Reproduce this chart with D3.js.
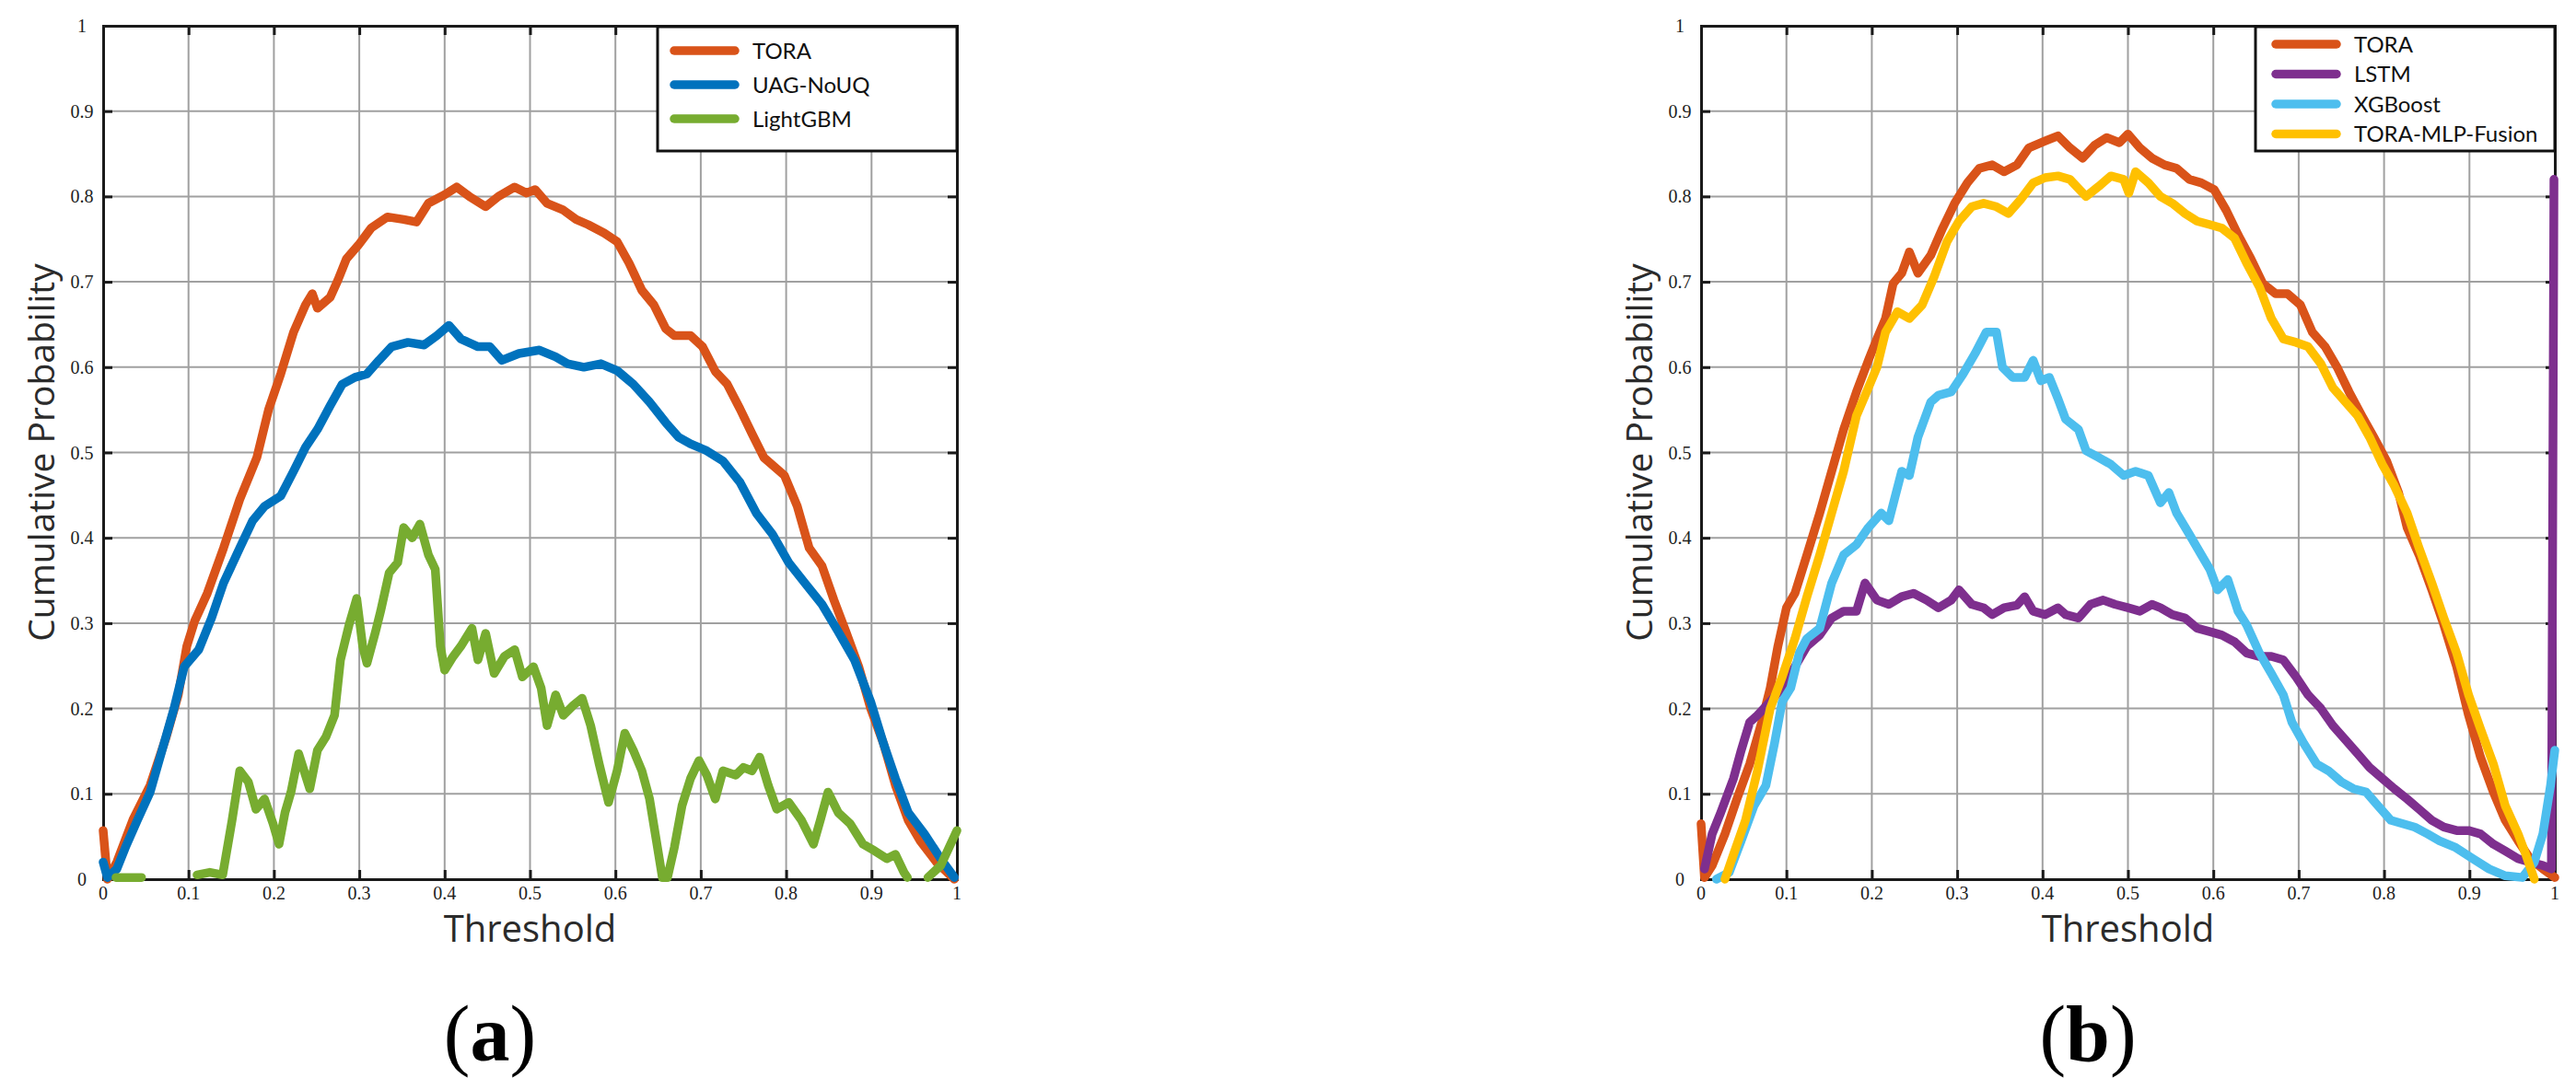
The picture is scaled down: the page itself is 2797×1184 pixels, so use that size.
<!DOCTYPE html>
<html>
<head>
<meta charset="utf-8">
<script src="https://cdn.jsdelivr.net/npm/d3@7"></script>
<style>
  body { margin: 0; background: #fff; }
  svg { display: block; }
</style>
</head>
<body>
<div id="chart"></div>
<script>
// ---- data ----
const ticks = [0, 0.1, 0.2, 0.3, 0.4, 0.5, 0.6, 0.7, 0.8, 0.9, 1];
const tickLabels = ["0", "0.1", "0.2", "0.3", "0.4", "0.5", "0.6", "0.7", "0.8", "0.9", "1"];

// panel (a)
const toraA = [[0,0.057],[0.005,0.0],[0.016,0.02],[0.035,0.07],[0.055,0.11],[0.074,0.167],[0.088,0.216],
  [0.098,0.273],[0.107,0.302],[0.122,0.335],[0.141,0.388],[0.16,0.445],[0.18,0.494],[0.194,0.551],
  [0.208,0.592],[0.223,0.641],[0.237,0.673],[0.245,0.686],[0.251,0.669],[0.266,0.682],[0.275,0.702],
  [0.285,0.727],[0.299,0.743],[0.314,0.763],[0.333,0.776],[0.352,0.773],[0.367,0.77],[0.381,0.792],
  [0.4,0.802],[0.414,0.811],[0.429,0.8],[0.448,0.788],[0.463,0.8],[0.482,0.811],[0.496,0.804],
  [0.506,0.808],[0.52,0.792],[0.539,0.784],[0.554,0.773],[0.568,0.767],[0.587,0.757],[0.602,0.747],
  [0.616,0.722],[0.631,0.69],[0.645,0.673],[0.659,0.645],[0.669,0.637],[0.688,0.637],[0.702,0.624],
  [0.717,0.595],[0.731,0.58],[0.746,0.551],[0.76,0.522],[0.774,0.494],[0.798,0.473],[0.813,0.437],
  [0.827,0.388],[0.842,0.367],[0.856,0.327],[0.87,0.29],[0.885,0.249],[0.899,0.2],[0.914,0.159],
  [0.928,0.11],[0.943,0.069],[0.957,0.045],[0.976,0.02],[0.997,0.0]];

const uagA = [[0,0.02],[0.005,0.002],[0.016,0.012],[0.026,0.037],[0.04,0.069],[0.055,0.102],[0.069,0.151],
  [0.083,0.2],[0.095,0.249],[0.112,0.269],[0.127,0.306],[0.141,0.347],[0.16,0.388],[0.175,0.42],
  [0.189,0.437],[0.208,0.449],[0.223,0.478],[0.237,0.506],[0.251,0.527],[0.266,0.555],[0.28,0.58],
  [0.295,0.588],[0.309,0.592],[0.323,0.608],[0.338,0.624],[0.357,0.629],[0.376,0.626],[0.391,0.637],
  [0.405,0.649],[0.419,0.633],[0.439,0.624],[0.453,0.624],[0.467,0.608],[0.487,0.616],[0.511,0.62],
  [0.53,0.612],[0.544,0.604],[0.563,0.6],[0.583,0.604],[0.602,0.596],[0.621,0.58],[0.64,0.559],
  [0.659,0.535],[0.674,0.518],[0.688,0.51],[0.707,0.502],[0.726,0.49],[0.746,0.465],[0.765,0.429],
  [0.784,0.404],[0.803,0.371],[0.822,0.347],[0.842,0.322],[0.861,0.29],[0.88,0.257],[0.899,0.208],
  [0.914,0.159],[0.928,0.118],[0.943,0.078],[0.962,0.053],[0.981,0.024],[0.997,0.002]];

const lgbmA = [[0.015,0.002],[0.045,0.002],[0.046,null],[0.11,0.005],[0.125,0.008],[0.14,0.005],
  [0.151,0.069],[0.16,0.127],[0.17,0.114],[0.179,0.082],[0.189,0.094],[0.199,0.065],[0.206,0.041],
  [0.213,0.078],[0.22,0.102],[0.229,0.147],[0.242,0.106],[0.251,0.151],[0.261,0.167],[0.271,0.192],
  [0.278,0.257],[0.288,0.298],[0.297,0.329],[0.304,0.273],[0.309,0.253],[0.319,0.29],[0.325,0.314],
  [0.335,0.359],[0.345,0.371],[0.352,0.412],[0.362,0.4],[0.371,0.416],[0.381,0.38],[0.389,0.363],
  [0.395,0.273],[0.4,0.245],[0.41,0.261],[0.419,0.273],[0.432,0.294],[0.439,0.257],[0.448,0.288],
  [0.458,0.241],[0.47,0.261],[0.482,0.269],[0.491,0.237],[0.504,0.249],[0.513,0.224],[0.52,0.18],
  [0.53,0.216],[0.539,0.192],[0.551,0.204],[0.561,0.212],[0.571,0.18],[0.581,0.135],[0.592,0.09],
  [0.602,0.127],[0.611,0.171],[0.621,0.151],[0.631,0.127],[0.64,0.094],[0.648,0.045],[0.655,0.002],
  [0.661,0.002],[0.669,0.037],[0.678,0.086],[0.688,0.118],[0.698,0.139],[0.707,0.122],[0.717,0.094],
  [0.726,0.127],[0.741,0.122],[0.75,0.131],[0.76,0.127],[0.769,0.143],[0.779,0.11],[0.789,0.082],
  [0.803,0.09],[0.818,0.069],[0.832,0.041],[0.84,0.069],[0.849,0.102],[0.861,0.078],[0.875,0.065],
  [0.89,0.041],[0.904,0.033],[0.918,0.024],[0.928,0.029],[0.938,0.008],[0.942,0.002],[0.943,null],
  [0.966,0.002],[0.981,0.016],[1.0,0.057]];

// panel (b)
const toraB = [[0,0.065],[0.004,0.002],[0.013,0.016],[0.028,0.053],[0.042,0.094],[0.057,0.135],[0.071,0.184],
  [0.081,0.224],[0.09,0.273],[0.1,0.318],[0.11,0.335],[0.124,0.38],[0.139,0.429],[0.153,0.478],
  [0.167,0.527],[0.182,0.571],[0.196,0.608],[0.206,0.633],[0.216,0.657],[0.225,0.698],[0.235,0.71],
  [0.244,0.735],[0.254,0.71],[0.269,0.731],[0.283,0.763],[0.297,0.792],[0.312,0.816],[0.326,0.833],
  [0.341,0.837],[0.355,0.829],[0.37,0.837],[0.384,0.857],[0.403,0.865],[0.418,0.871],[0.432,0.857],
  [0.447,0.845],[0.461,0.86],[0.475,0.869],[0.49,0.863],[0.5,0.873],[0.514,0.857],[0.528,0.845],
  [0.543,0.837],[0.557,0.833],[0.572,0.82],[0.586,0.816],[0.601,0.808],[0.615,0.784],[0.629,0.755],
  [0.644,0.727],[0.658,0.698],[0.673,0.686],[0.687,0.686],[0.702,0.673],[0.716,0.641],[0.731,0.624],
  [0.745,0.6],[0.759,0.571],[0.774,0.543],[0.788,0.518],[0.803,0.49],[0.817,0.453],[0.827,0.412],
  [0.841,0.38],[0.856,0.339],[0.87,0.298],[0.885,0.249],[0.899,0.192],[0.913,0.143],[0.928,0.102],
  [0.942,0.069],[0.957,0.045],[0.971,0.024],[0.986,0.012],[1.0,0.002]];

const lstmB = [[0.004,0.012],[0.013,0.053],[0.023,0.078],[0.038,0.118],[0.047,0.151],[0.057,0.184],
  [0.066,0.192],[0.081,0.208],[0.095,0.224],[0.11,0.249],[0.124,0.273],[0.139,0.286],[0.153,0.306],
  [0.167,0.314],[0.182,0.314],[0.192,0.347],[0.206,0.327],[0.22,0.322],[0.235,0.331],[0.249,0.335],
  [0.264,0.327],[0.278,0.318],[0.293,0.327],[0.302,0.339],[0.317,0.322],[0.331,0.318],[0.341,0.31],
  [0.355,0.318],[0.37,0.321],[0.379,0.331],[0.389,0.314],[0.403,0.31],[0.418,0.318],[0.427,0.31],
  [0.442,0.306],[0.456,0.322],[0.471,0.327],[0.485,0.322],[0.5,0.318],[0.514,0.314],[0.528,0.322],
  [0.538,0.318],[0.552,0.31],[0.567,0.306],[0.581,0.294],[0.596,0.29],[0.61,0.286],[0.625,0.278],
  [0.639,0.265],[0.654,0.261],[0.668,0.261],[0.682,0.257],[0.697,0.237],[0.711,0.216],[0.726,0.2],
  [0.74,0.18],[0.755,0.163],[0.769,0.147],[0.783,0.131],[0.798,0.118],[0.812,0.106],[0.827,0.094],
  [0.841,0.082],[0.856,0.069],[0.87,0.061],[0.885,0.057],[0.899,0.057],[0.913,0.053],[0.928,0.041],
  [0.942,0.033],[0.957,0.024],[0.971,0.02],[0.986,0.016],[0.996,0.012],[0.999,0.82]];

const xgbB = [[0.018,0.0],[0.033,0.008],[0.047,0.045],[0.062,0.086],[0.076,0.11],[0.086,0.159],[0.095,0.208],
  [0.105,0.224],[0.115,0.265],[0.124,0.282],[0.139,0.294],[0.153,0.347],[0.167,0.38],[0.182,0.392],
  [0.196,0.412],[0.211,0.429],[0.22,0.42],[0.235,0.478],[0.244,0.473],[0.254,0.518],[0.269,0.559],
  [0.278,0.567],[0.293,0.571],[0.307,0.592],[0.321,0.616],[0.334,0.641],[0.346,0.641],[0.353,0.6],
  [0.365,0.588],[0.379,0.588],[0.389,0.608],[0.398,0.584],[0.408,0.588],[0.418,0.563],[0.427,0.539],
  [0.442,0.527],[0.451,0.502],[0.466,0.494],[0.48,0.486],[0.495,0.473],[0.509,0.478],[0.524,0.473],
  [0.538,0.441],[0.548,0.453],[0.557,0.429],[0.572,0.404],[0.586,0.38],[0.596,0.363],[0.605,0.339],
  [0.617,0.351],[0.629,0.314],[0.639,0.298],[0.654,0.265],[0.668,0.241],[0.682,0.216],[0.692,0.184],
  [0.706,0.159],[0.721,0.135],[0.735,0.127],[0.75,0.114],[0.764,0.106],[0.779,0.102],[0.793,0.086],
  [0.808,0.069],[0.822,0.065],[0.836,0.061],[0.851,0.053],[0.865,0.045],[0.884,0.037],[0.904,0.024],
  [0.923,0.012],[0.942,0.004],[0.962,0.002],[0.976,0.02],[0.986,0.053],[0.995,0.11],[1.0,0.151]];

const fusionB = [[0.028,0.0],[0.038,0.029],[0.052,0.069],[0.066,0.127],[0.081,0.2],[0.095,0.237],[0.11,0.282],
  [0.124,0.331],[0.139,0.38],[0.153,0.429],[0.167,0.478],[0.182,0.543],[0.196,0.576],[0.206,0.6],
  [0.216,0.641],[0.23,0.665],[0.244,0.657],[0.259,0.673],[0.273,0.706],[0.288,0.747],[0.302,0.771],
  [0.317,0.788],[0.331,0.792],[0.346,0.788],[0.36,0.78],[0.374,0.796],[0.389,0.816],[0.403,0.822],
  [0.418,0.824],[0.432,0.82],[0.451,0.8],[0.466,0.812],[0.48,0.824],[0.495,0.82],[0.501,0.804],
  [0.509,0.829],[0.524,0.816],[0.538,0.8],[0.552,0.792],[0.567,0.78],[0.581,0.771],[0.596,0.767],
  [0.61,0.763],[0.625,0.751],[0.639,0.722],[0.654,0.694],[0.668,0.657],[0.682,0.633],[0.697,0.629],
  [0.711,0.624],[0.726,0.604],[0.74,0.576],[0.755,0.559],[0.769,0.543],[0.783,0.518],[0.798,0.486],
  [0.812,0.461],[0.827,0.429],[0.841,0.388],[0.856,0.347],[0.87,0.306],[0.885,0.265],[0.899,0.216],
  [0.913,0.176],[0.928,0.135],[0.942,0.086],[0.957,0.053],[0.966,0.029],[0.976,0.0]];

const namesA = ["TORA", "UAG-NoUQ", "LightGBM"];
const colorsA = ["#D95319", "#0072BD", "#77AC30"];
const namesB = ["TORA", "LSTM", "XGBoost", "TORA-MLP-Fusion"];
const colorsB = ["#D95319", "#7E2F8E", "#4DBEEE", "#FFC000"];

// ---- layout ----
const W = 2797, H = 1184;
const svg = d3.select("#chart").append("svg")
  .attr("width", W).attr("height", H);

const plotSize = 927;

function drawPanel(offsetX, seriesList, names, colors, legendRows, label) {
  const x0 = 112, y0 = 28;
  const g = svg.append("g").attr("transform", `translate(${offsetX},0)`);

  const x = d3.scaleLinear().domain([0, 1]).range([x0, x0 + plotSize]);
  const y = d3.scaleLinear().domain([0, 1]).range([y0 + plotSize, y0]);

  // grid
  g.append("g").selectAll("line").data(ticks.slice(1, -1)).enter().append("line")
    .attr("x1", d => x(d)).attr("x2", d => x(d))
    .attr("y1", y(0)).attr("y2", y(1))
    .attr("stroke", "#a0a0a0").attr("stroke-width", 2);
  g.append("g").selectAll("line").data(ticks.slice(1, -1)).enter().append("line")
    .attr("y1", d => y(d)).attr("y2", d => y(d))
    .attr("x1", x(0)).attr("x2", x(1))
    .attr("stroke", "#a0a0a0").attr("stroke-width", 2);

  // axes with inward ticks on all four sides
  const tickLen = 10;
  const axB = d3.axisBottom(x).tickValues(ticks).tickSize(-tickLen).tickFormat("");
  const axT = d3.axisTop(x).tickValues(ticks).tickSize(-tickLen).tickFormat("");
  const axL = d3.axisLeft(y).tickValues(ticks).tickSize(-tickLen).tickFormat("");
  const axR = d3.axisRight(y).tickValues(ticks).tickSize(-tickLen).tickFormat("");
  [[axB, `translate(0,${y(0)})`], [axT, `translate(0,${y(1)})`],
   [axL, `translate(${x(0)},0)`], [axR, `translate(${x(1)},0)`]].forEach(([ax, tr]) => {
    const a = g.append("g").attr("transform", tr).call(ax);
    a.select(".domain").attr("stroke", "#1a1a1a").attr("stroke-width", 3);
    a.selectAll(".tick line").attr("stroke", "#1a1a1a").attr("stroke-width", 3);
  });

  // tick labels
  g.append("g").selectAll("text").data(ticks).enter().append("text")
    .attr("x", d => x(d)).attr("y", y(0) + 22)
    .attr("text-anchor", "middle")
    .style("font-family", "'Liberation Serif', serif").style("font-size", "20px")
    .attr("fill", "#222")
    .text((d, i) => tickLabels[i]);
  g.append("g").selectAll("text").data(ticks).enter().append("text")
    .attr("x", x0 - 23).attr("y", d => y(d)).attr("dy", "0.35em")
    .attr("text-anchor", "middle")
    .style("font-family", "'Liberation Serif', serif").style("font-size", "20px")
    .attr("fill", "#222")
    .text((d, i) => tickLabels[i]);

  // curves
  const line = d3.line()
    .defined(d => d[1] !== null)
    .x(d => x(d[0])).y(d => y(d[1]));
  seriesList.forEach((s, i) => {
    g.append("path").datum(s)
      .attr("d", line)
      .attr("fill", "none")
      .attr("stroke", colors[i])
      .attr("stroke-width", 9.5)
      .attr("stroke-linejoin", "round")
      .attr("stroke-linecap", "round");
  });

  // legend
  const lgW = 325, lgH = 135;
  const lg = g.append("g").attr("transform", `translate(${x(1) - lgW},${y0 + 1})`);
  lg.append("rect").attr("width", lgW).attr("height", lgH)
    .attr("fill", "#fff").attr("stroke", "#111").attr("stroke-width", 3);
  names.forEach((n, i) => {
    const ry = legendRows.first + i * legendRows.step;
    lg.append("line")
      .attr("x1", legendRows.lineX).attr("x2", legendRows.lineX + 66)
      .attr("y1", ry).attr("y2", ry)
      .attr("stroke", colors[i]).attr("stroke-width", 9.5).attr("stroke-linecap", "round");
    lg.append("text")
      .attr("x", legendRows.textX).attr("y", ry + 8.5)
      .style("font-family", "Lato, sans-serif").style("font-size", "24px")
      .attr("fill", "#111")
      .text(n);
  });

  // axis titles
  g.append("text")
    .attr("x", (x(0) + x(1)) / 2).attr("y", y(0) + 68)
    .attr("text-anchor", "middle")
    .style("font-family", "'Open Sans', sans-serif").style("font-size", "40px")
    .attr("fill", "#2b2b2b")
    .text("Threshold");
  g.append("text")
    .attr("transform", `translate(${x0 - 53},${(y(0) + y(1)) / 2}) rotate(-90)`)
    .attr("text-anchor", "middle")
    .style("font-family", "'Open Sans', sans-serif").style("font-size", "39px")
    .attr("fill", "#2b2b2b")
    .text("Cumulative Probability");

  // panel label
  const lt = g.append("text")
    .attr("x", 532).attr("y", 1152)
    .attr("text-anchor", "middle")
    .style("font-family", "'Liberation Serif', serif").style("font-size", "86px")
    .attr("fill", "#000");
  lt.append("tspan").text("(");
  lt.append("tspan").style("font-weight", "bold").text(label);
  lt.append("tspan").text(")");
}

drawPanel(0, [toraA, uagA, lgbmA], namesA, colorsA,
  { first: 26, step: 37, lineX: 18, textX: 103 }, "a");
drawPanel(1735, [toraB, lstmB, xgbB, fusionB], namesB, colorsB,
  { first: 19, step: 32.5, lineX: 22, textX: 107 }, "b");
</script>
</body>
</html>
